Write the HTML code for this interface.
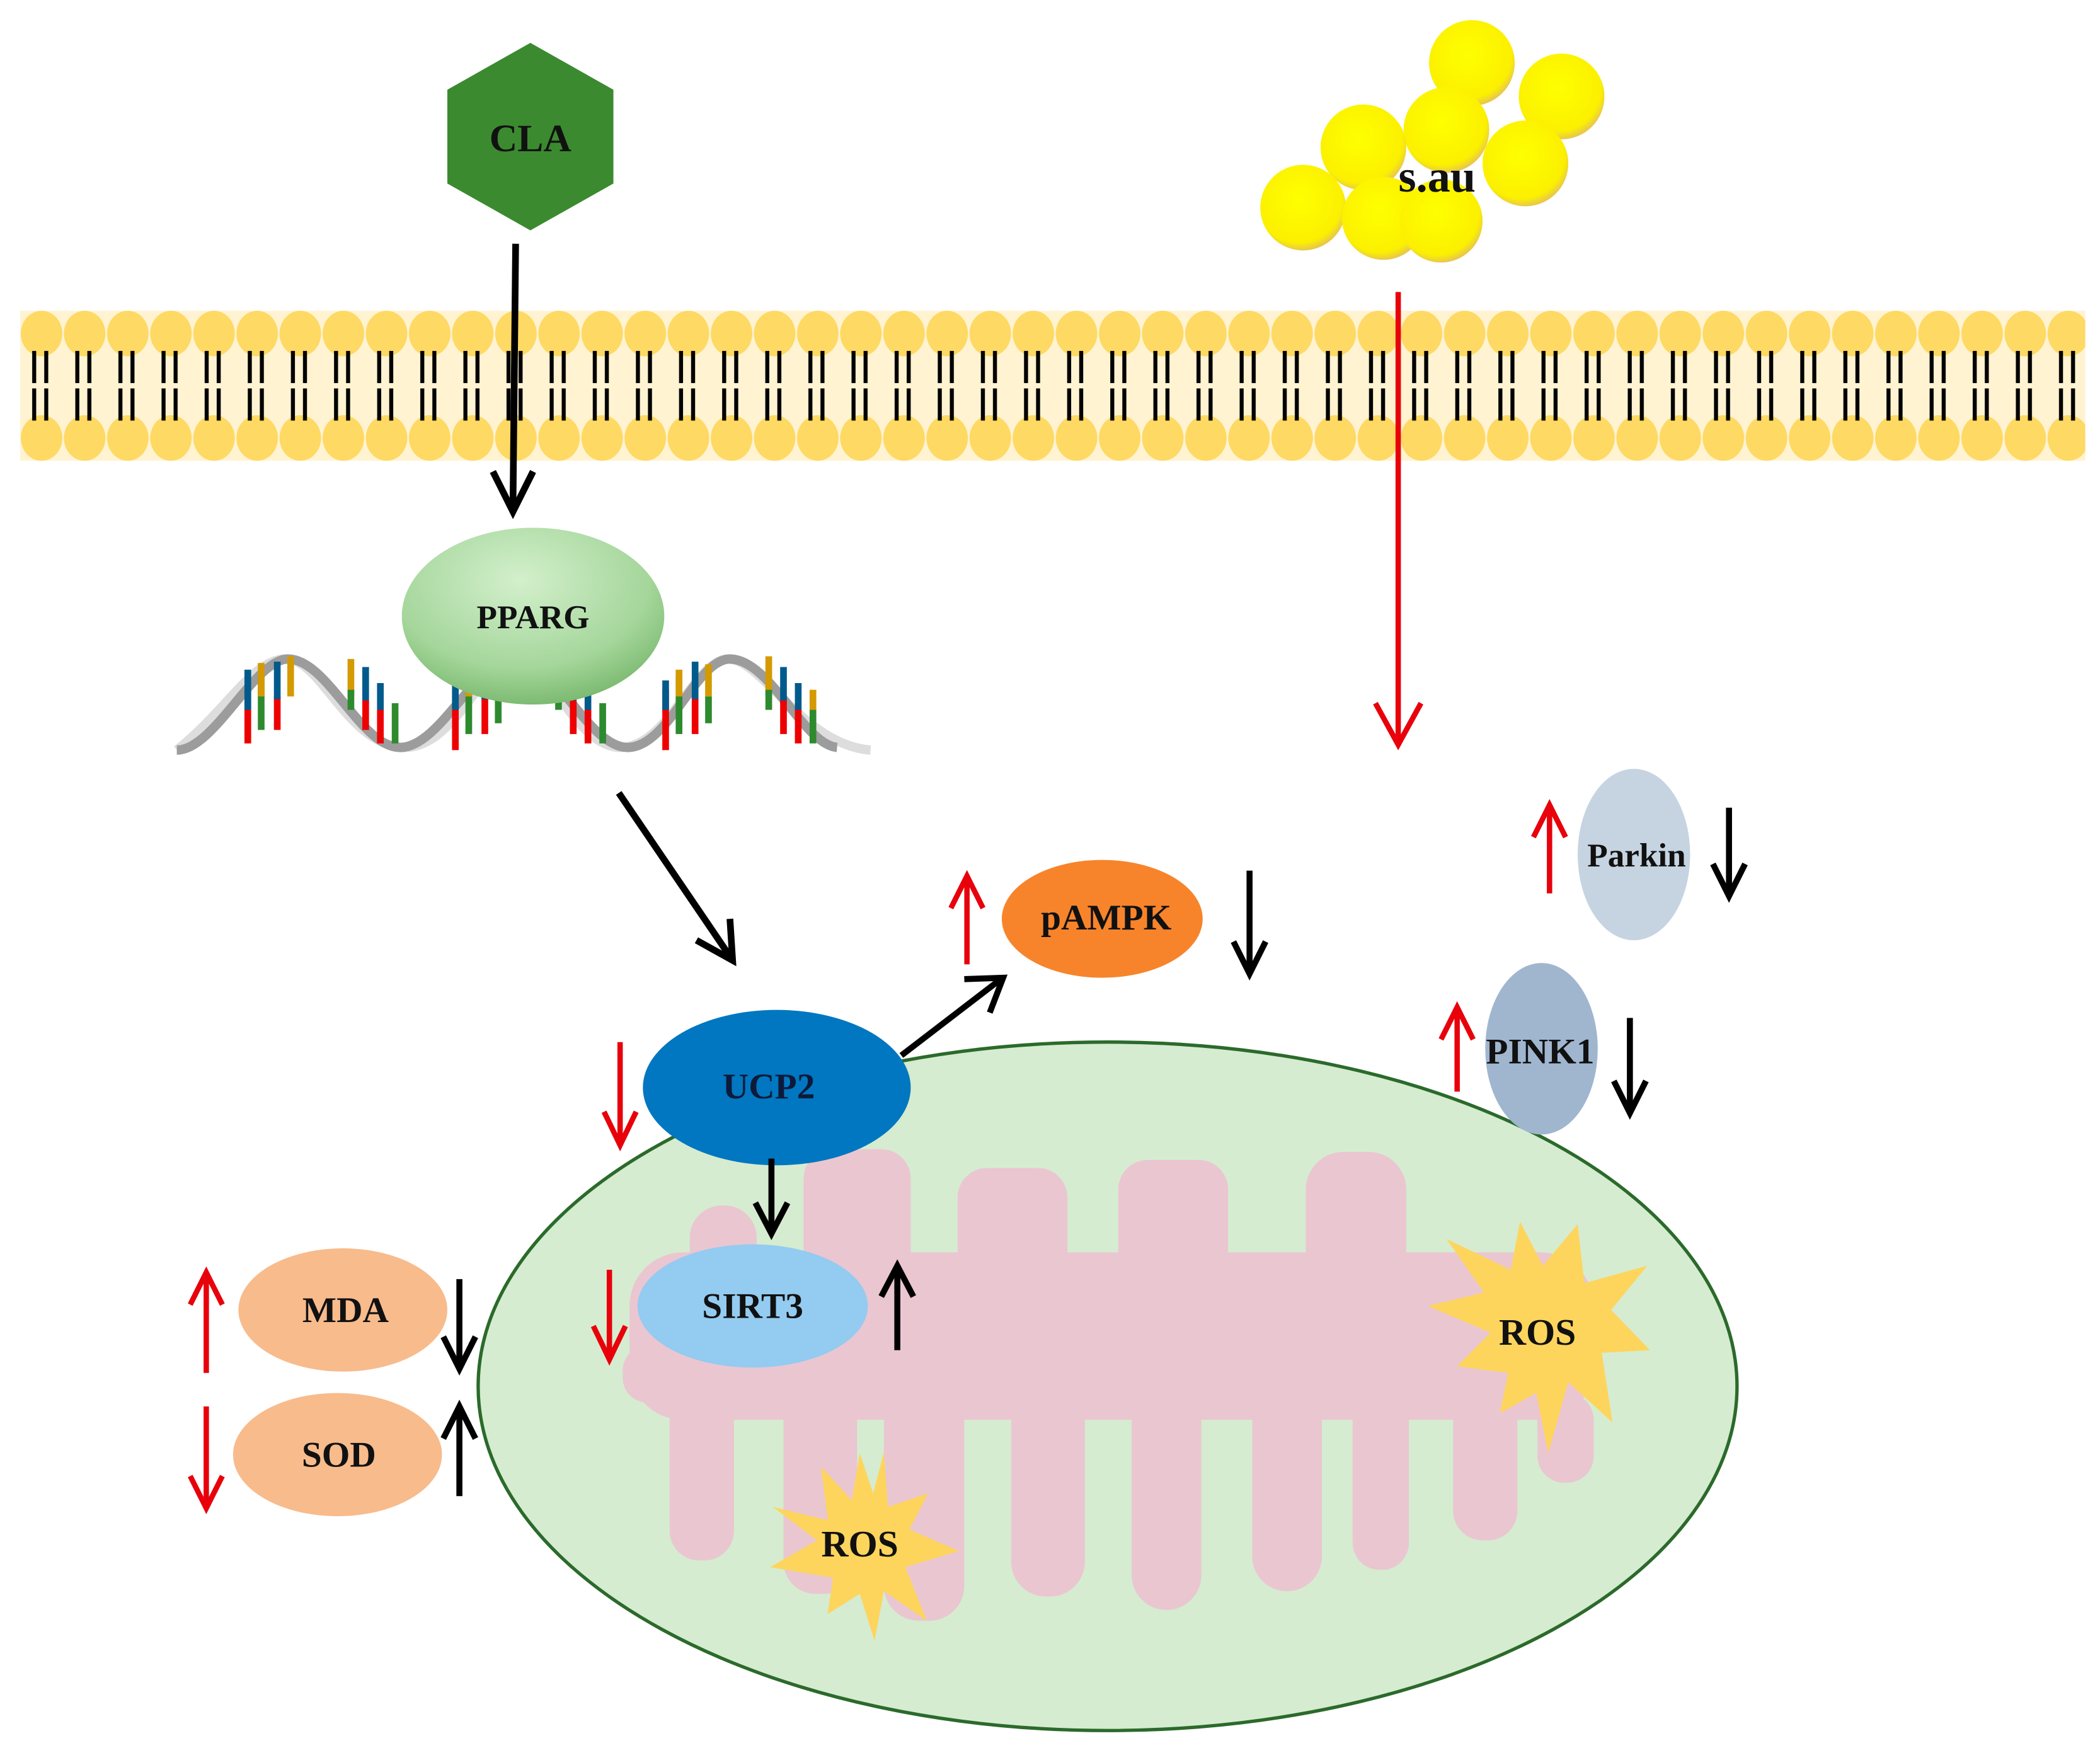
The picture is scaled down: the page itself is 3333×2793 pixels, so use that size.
<!DOCTYPE html>
<html><head><meta charset="utf-8"><style>html,body{margin:0;padding:0;background:#fff}svg{display:block}</style></head><body>
<svg width="3333" height="2793" viewBox="0 0 1568 1314" xmlns="http://www.w3.org/2000/svg" font-family="Liberation Serif, serif" font-weight="bold">
<defs>
<pattern id="lip" x="15" y="0" width="32.2" height="1314" patternUnits="userSpaceOnUse">
<ellipse cx="16" cy="249" rx="15.5" ry="17" fill="#fed963"/>
<ellipse cx="16" cy="327" rx="15.5" ry="17" fill="#fed963"/>
<rect x="9" y="262" width="3" height="24" fill="#000"/><rect x="18" y="262" width="3" height="24" fill="#000"/>
<rect x="9" y="290" width="3" height="24" fill="#000"/><rect x="18" y="290" width="3" height="24" fill="#000"/>
</pattern>
<radialGradient id="pg" cx="0.45" cy="0.3" r="0.7"><stop offset="0" stop-color="#d3f0cc"/><stop offset="0.7" stop-color="#a5d69b"/><stop offset="1" stop-color="#7dbb72"/></radialGradient>
<radialGradient id="yb" cx="0.45" cy="0.4" r="0.6"><stop offset="0" stop-color="#ffff00"/><stop offset="0.85" stop-color="#fbf000"/><stop offset="1" stop-color="#e8c84a"/></radialGradient>
</defs>

<rect x="15" y="232" width="1542" height="112" fill="#fff3d2"/>
<rect x="15" y="230" width="1542" height="116" fill="url(#lip)"/>

<polygon points="396,32 458,67 458,137 396,172 334,137 334,67" fill="#3b8a2f"/>
<text x="396" y="113" font-size="29" text-anchor="middle" fill="#111">CLA</text>
<line x1="385" y1="182" x2="383" y2="378" stroke="#000" stroke-width="5"/>
<path d="M368,352 L383,382 L398,352" fill="none" stroke="#000" stroke-width="5"/>

<g fill="url(#yb)">
<circle cx="1099" cy="47" r="32"/><circle cx="1166" cy="72" r="32"/><circle cx="1080" cy="97" r="32"/>
<circle cx="1139" cy="122" r="32"/><circle cx="1018" cy="110" r="32"/><circle cx="973" cy="155" r="32"/>
<circle cx="1033" cy="163" r="31"/><circle cx="1076" cy="165" r="31"/>
</g>
<text x="1073" y="143" font-size="34" text-anchor="middle" fill="#111">s.au</text>
<line x1="1044" y1="218" x2="1044" y2="553" stroke="#e8000b" stroke-width="4"/>
<path d="M1027,525 L1044,556 L1061,525" fill="none" stroke="#e8000b" stroke-width="4"/>

<g fill="none" stroke-width="7">
<path d="M132,560 C170,530 190,490 215,492 C240,494 260,555 300,558 C340,560 360,492 385,492 C410,492 430,560 465,558 C500,556 520,490 545,492 C570,494 600,556 650,560" stroke="#ddd"/>
<path d="M132,560 C160,560 190,492 215,492 C245,492 270,560 300,558 C330,556 355,492 385,492 C415,492 440,560 470,558 C500,556 520,492 545,492 C575,492 600,556 625,558" stroke="#9c9c9c"/>
</g>
<g stroke-width="5">
<g>
<line x1="185" y1="515" x2="185" y2="555" stroke="#e00"/><line x1="185" y1="500" x2="185" y2="530" stroke="#005a8c"/>
<line x1="195" y1="505" x2="195" y2="545" stroke="#2e8a2e"/><line x1="195" y1="495" x2="195" y2="520" stroke="#d49a00"/>
<line x1="207" y1="520" x2="207" y2="545" stroke="#e00"/><line x1="207" y1="494" x2="207" y2="522" stroke="#005a8c"/>
<line x1="217" y1="490" x2="217" y2="520" stroke="#d49a00"/>
<line x1="262" y1="492" x2="262" y2="520" stroke="#d49a00"/><line x1="262" y1="515" x2="262" y2="530" stroke="#2e8a2e"/>
<line x1="273" y1="498" x2="273" y2="525" stroke="#005a8c"/><line x1="273" y1="523" x2="273" y2="545" stroke="#e00"/>
<line x1="284" y1="510" x2="284" y2="530" stroke="#005a8c"/><line x1="284" y1="530" x2="284" y2="555" stroke="#e00"/>
<line x1="295" y1="525" x2="295" y2="555" stroke="#2e8a2e"/>
</g>
<g transform="translate(155,0)">
<line x1="185" y1="515" x2="185" y2="560" stroke="#e00"/><line x1="185" y1="508" x2="185" y2="530" stroke="#005a8c"/>
<line x1="195" y1="505" x2="195" y2="548" stroke="#2e8a2e"/><line x1="195" y1="500" x2="195" y2="520" stroke="#d49a00"/>
<line x1="207" y1="520" x2="207" y2="548" stroke="#e00"/><line x1="207" y1="494" x2="207" y2="522" stroke="#005a8c"/>
<line x1="217" y1="496" x2="217" y2="520" stroke="#d49a00"/><line x1="217" y1="520" x2="217" y2="540" stroke="#2e8a2e"/>
<line x1="262" y1="492" x2="262" y2="520" stroke="#d49a00"/><line x1="262" y1="515" x2="262" y2="530" stroke="#2e8a2e"/>
<line x1="273" y1="498" x2="273" y2="525" stroke="#005a8c"/><line x1="273" y1="523" x2="273" y2="548" stroke="#e00"/>
<line x1="284" y1="510" x2="284" y2="530" stroke="#005a8c"/><line x1="284" y1="530" x2="284" y2="555" stroke="#e00"/>
<line x1="295" y1="525" x2="295" y2="555" stroke="#2e8a2e"/>
</g>
<g transform="translate(312,0)">
<line x1="185" y1="515" x2="185" y2="560" stroke="#e00"/><line x1="185" y1="508" x2="185" y2="530" stroke="#005a8c"/>
<line x1="195" y1="505" x2="195" y2="548" stroke="#2e8a2e"/><line x1="195" y1="500" x2="195" y2="520" stroke="#d49a00"/>
<line x1="207" y1="520" x2="207" y2="548" stroke="#e00"/><line x1="207" y1="494" x2="207" y2="522" stroke="#005a8c"/>
<line x1="217" y1="496" x2="217" y2="520" stroke="#d49a00"/><line x1="217" y1="520" x2="217" y2="540" stroke="#2e8a2e"/>
<line x1="262" y1="490" x2="262" y2="520" stroke="#d49a00"/><line x1="262" y1="515" x2="262" y2="530" stroke="#2e8a2e"/>
<line x1="273" y1="498" x2="273" y2="525" stroke="#005a8c"/><line x1="273" y1="523" x2="273" y2="548" stroke="#e00"/>
<line x1="284" y1="510" x2="284" y2="530" stroke="#005a8c"/><line x1="284" y1="530" x2="284" y2="555" stroke="#e00"/>
<line x1="295" y1="515" x2="295" y2="530" stroke="#d49a00"/><line x1="295" y1="530" x2="295" y2="555" stroke="#2e8a2e"/>
</g>
</g>
<ellipse cx="398" cy="460" rx="98" ry="66" fill="url(#pg)"/>
<text x="398" y="469" font-size="25" text-anchor="middle" fill="#111">PPARG</text>

<line x1="462" y1="592" x2="545" y2="714" stroke="#000" stroke-width="5"/>
<path d="M520,702 L547,717 L545,686" fill="none" stroke="#000" stroke-width="5"/>

<ellipse cx="827" cy="1035" rx="470" ry="257" fill="#d5ecd0" stroke="#2b6a2b" stroke-width="2.5"/>
<g fill="#eac6d1">
<rect x="470" y="935" width="720" height="125" rx="40"/>
<rect x="465" y="1005" width="80" height="42" rx="18"/>
<rect x="515" y="900" width="50" height="60" rx="24"/>
<rect x="600" y="858" width="80" height="110" rx="22"/>
<rect x="715" y="872" width="82" height="90" rx="22"/>
<rect x="835" y="866" width="82" height="100" rx="22"/>
<rect x="975" y="860" width="75" height="110" rx="28"/>
<rect x="500" y="1020" width="48" height="145" rx="22"/>
<rect x="585" y="1030" width="55" height="160" rx="24"/>
<rect x="660" y="1030" width="60" height="180" rx="26"/>
<rect x="755" y="1030" width="55" height="162" rx="26"/>
<rect x="845" y="1030" width="52" height="172" rx="26"/>
<rect x="935" y="1030" width="52" height="158" rx="26"/>
<rect x="1010" y="1030" width="42" height="142" rx="20"/>
<rect x="1085" y="1030" width="48" height="120" rx="22"/>
<rect x="1148" y="1040" width="42" height="67" rx="20"/>
</g>
<polygon points="1178,914 1183,958 1230,945 1203,978 1232,1008 1196,1010 1204,1062 1171,1032 1156,1085 1147,1040 1120,1055 1126,1025 1088,1020 1113,995 1066,975 1108,965 1080,925 1128,948 1135,912 1152,945" fill="#fdd55d"/>
<text x="1148" y="1004" font-size="28" text-anchor="middle" fill="#111">ROS</text>
<polygon points="660,1084 663,1125 693,1115 679,1142 716,1158 676,1170 692,1210 660,1188 653,1225 642,1190 618,1205 622,1178 575,1170 610,1150 577,1125 618,1135 613,1095 636,1120 642,1085 652,1115" fill="#fdd55d"/>
<text x="642" y="1162" font-size="28" text-anchor="middle" fill="#111">ROS</text>

<ellipse cx="580" cy="812" rx="100" ry="58" fill="#0077c0"/>
<text x="574" y="820" font-size="27" text-anchor="middle" fill="#0d1a3a">UCP2</text>
<line x1="463" y1="778" x2="463" y2="852" stroke="#e8000b" stroke-width="4"/>
<path d="M451,830 L463,855 L475,830" fill="none" stroke="#e8000b" stroke-width="4"/>
<line x1="673" y1="788" x2="746" y2="732" stroke="#000" stroke-width="4.5"/>
<path d="M720,731 L749,730 L739,756" fill="none" stroke="#000" stroke-width="4.5"/>
<line x1="576" y1="865" x2="576" y2="918" stroke="#000" stroke-width="4.5"/>
<path d="M564,898 L576,921 L588,898" fill="none" stroke="#000" stroke-width="4.5"/>

<ellipse cx="562" cy="975" rx="86" ry="46" fill="#94cbf0"/>
<text x="562" y="984" font-size="27" text-anchor="middle" fill="#111">SIRT3</text>
<line x1="455" y1="948" x2="455" y2="1012" stroke="#e8000b" stroke-width="4"/>
<path d="M443,990 L455,1015 L467,990" fill="none" stroke="#e8000b" stroke-width="4"/>
<line x1="670" y1="1008" x2="670" y2="947" stroke="#000" stroke-width="4.5"/>
<path d="M658,968 L670,945 L682,968" fill="none" stroke="#000" stroke-width="4.5"/>

<ellipse cx="823" cy="686" rx="75" ry="44" fill="#f7842b"/>
<text x="826" y="694" font-size="27" text-anchor="middle" fill="#111">pAMPK</text>
<line x1="722" y1="720" x2="722" y2="657" stroke="#e8000b" stroke-width="4"/>
<path d="M710,678 L722,654 L734,678" fill="none" stroke="#e8000b" stroke-width="4"/>
<line x1="933" y1="650" x2="933" y2="724" stroke="#000" stroke-width="4.5"/>
<path d="M921,703 L933,727 L945,703" fill="none" stroke="#000" stroke-width="4.5"/>

<ellipse cx="1220" cy="638" rx="42" ry="64" fill="#c6d4e1"/>
<text x="1222" y="647" font-size="25" text-anchor="middle" fill="#111">Parkin</text>
<line x1="1157" y1="667" x2="1157" y2="604" stroke="#e8000b" stroke-width="4"/>
<path d="M1145,625 L1157,601 L1169,625" fill="none" stroke="#e8000b" stroke-width="4"/>
<line x1="1291" y1="603" x2="1291" y2="666" stroke="#000" stroke-width="4.5"/>
<path d="M1279,645 L1291,669 L1303,645" fill="none" stroke="#000" stroke-width="4.5"/>

<ellipse cx="1151" cy="783" rx="42" ry="64" fill="#a0b6cf"/>
<text x="1150" y="794" font-size="27" text-anchor="middle" fill="#111">PINK1</text>
<line x1="1088" y1="815" x2="1088" y2="755" stroke="#e8000b" stroke-width="4"/>
<path d="M1076,776 L1088,752 L1100,776" fill="none" stroke="#e8000b" stroke-width="4"/>
<line x1="1217" y1="760" x2="1217" y2="828" stroke="#000" stroke-width="4.5"/>
<path d="M1205,807 L1217,831 L1229,807" fill="none" stroke="#000" stroke-width="4.5"/>

<ellipse cx="256" cy="978" rx="78" ry="46" fill="#f8bb8c"/>
<text x="258" y="987" font-size="27" text-anchor="middle" fill="#111">MDA</text>
<ellipse cx="252" cy="1086" rx="78" ry="46" fill="#f8bb8c"/>
<text x="253" y="1095" font-size="27" text-anchor="middle" fill="#111">SOD</text>
<line x1="154" y1="1025" x2="154" y2="953" stroke="#e8000b" stroke-width="4"/>
<path d="M142,974 L154,950 L166,974" fill="none" stroke="#e8000b" stroke-width="4"/>
<line x1="343" y1="955" x2="343" y2="1019" stroke="#000" stroke-width="4.5"/>
<path d="M331,998 L343,1022 L355,998" fill="none" stroke="#000" stroke-width="4.5"/>
<line x1="154" y1="1050" x2="154" y2="1123" stroke="#e8000b" stroke-width="4"/>
<path d="M142,1102 L154,1126 L166,1102" fill="none" stroke="#e8000b" stroke-width="4"/>
<line x1="343" y1="1117" x2="343" y2="1053" stroke="#000" stroke-width="4.5"/>
<path d="M331,1074 L343,1050 L355,1074" fill="none" stroke="#000" stroke-width="4.5"/>
</svg>
</body></html>
